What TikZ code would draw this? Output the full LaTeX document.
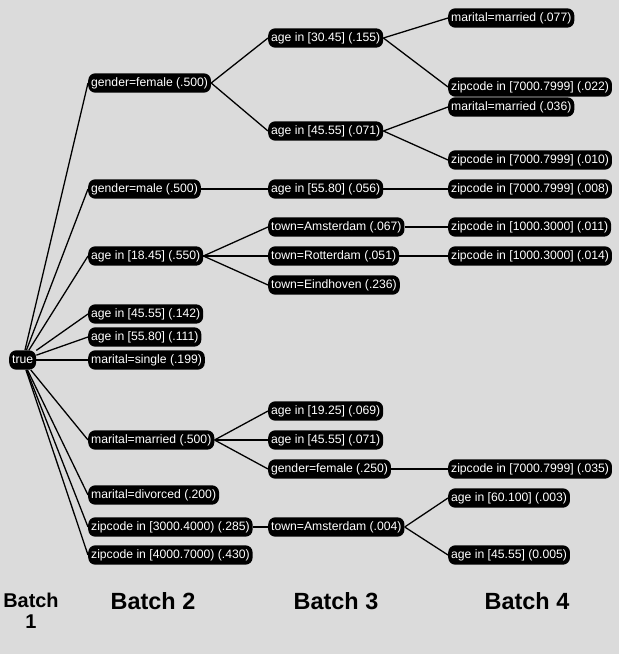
\documentclass[tikz,border=0pt]{standalone}
\usepackage{fontspec}
\setmainfont{Liberation Sans}
\usetikzlibrary{calc}

\tikzset{
  cnd/.style={fill=black,text=white,rounded corners=6pt,anchor=west,
    minimum height=16.5pt,inner xsep=2.5pt,inner ysep=1pt,font=\fontsize{10.4}{11}\selectfont},
  lnk/.style={line width=1.1pt},
  batch/.style={font=\fontsize{20}{17}\selectfont\bfseries,align=center}
}

\begin{document}
\begin{tikzpicture}[x=0.03cm,y=-0.03cm]
    % background
    \fill[black!14] (0,0) rectangle (619,654);
    \useasboundingbox (0,0) rectangle (619,654);
    % root
    \node[cnd] (true) at (9,360) {true};
    % batch 2
    \node[cnd] (gfem) at (88,83) {gender=female (.500)};
    \node[cnd] (gmale) at (88,189) {gender=male (.500)};
    \node[cnd] (a1845) at (88,256) {age in [18.45] (.550)};
    \node[cnd] (a4555) at (88,314) {age in [45.55] (.142)};
    \node[cnd] (a5580) at (88,337) {age in [55.80] (.111)};
    \node[cnd] (msingle) at (88,360) {marital=single (.199)};
    \node[cnd] (mmarried) at (88,440) {marital=married (.500)};
    \node[cnd] (mdiv) at (88,495) {marital=divorced (.200)};
    \node[cnd] (z3000) at (88,527) {zipcode in [3000.4000) (.285)};
    \node[cnd] (z4000) at (88,555) {zipcode in [4000.7000) (.430)};
    \foreach \n in {gfem,gmale,a1845,a4555,a5580,msingle,mmarried,mdiv,z3000,z4000}
      \draw[lnk] (true) -- (\n.west);
    % batch 3
    \node[cnd] (a3045) at (268,38) {age in [30.45] (.155)};
    \node[cnd] (a4555f) at (268,131) {age in [45.55] (.071)};
    \node[cnd] (a5580m) at (268,189) {age in [55.80] (.056)};
    \node[cnd] (tams) at (268,227) {town=Amsterdam (.067)};
    \node[cnd] (trot) at (268,256) {town=Rotterdam (.051)};
    \node[cnd] (tein) at (268,285) {town=Eindhoven (.236)};
    \node[cnd] (a1925) at (268,411) {age in [19.25] (.069)};
    \node[cnd] (a4555m) at (268,440) {age in [45.55] (.071)};
    \node[cnd] (gfemm) at (268,469) {gender=female (.250)};
    \node[cnd] (tamsz) at (268,527) {town=Amsterdam (.004)};
    \draw[lnk] (gfem.east) -- (a3045.west);
    \draw[lnk] (gfem.east) -- (a4555f.west);
    \draw[lnk] (gmale.east) -- (a5580m.west);
    \foreach \n in {tams,trot,tein}
      \draw[lnk] (a1845.east) -- (\n.west);
    \foreach \n in {a1925,a4555m,gfemm}
      \draw[lnk] (mmarried.east) -- (\n.west);
    \draw[lnk] (z3000.east) -- (tamsz.west);
    % batch 4
    \node[cnd] (mm077) at (448,18) {marital=married (.077)};
    \node[cnd] (z022) at (448,87) {zipcode in [7000.7999] (.022)};
    \node[cnd] (mm036) at (448,107) {marital=married (.036)};
    \node[cnd] (z010) at (448,160) {zipcode in [7000.7999] (.010)};
    \node[cnd] (z008) at (448,189) {zipcode in [7000.7999] (.008)};
    \node[cnd] (z011) at (448,227) {zipcode in [1000.3000] (.011)};
    \node[cnd] (z014) at (448,256) {zipcode in [1000.3000] (.014)};
    \node[cnd] (z035) at (448,469) {zipcode in [7000.7999] (.035)};
    \node[cnd] (a60) at (448,498) {age in [60.100] (.003)};
    \node[cnd] (a4555z) at (448,555) {age in [45.55] (0.005)};
    \draw[lnk] (a3045.east) -- (mm077.west);
    \draw[lnk] (a3045.east) -- (z022.west);
    \draw[lnk] (a4555f.east) -- (mm036.west);
    \draw[lnk] (a4555f.east) -- (z010.west);
    \draw[lnk] (a5580m.east) -- (z008.west);
    \draw[lnk] (tams.east) -- (z011.west);
    \draw[lnk] (trot.east) -- (z014.west);
    \draw[lnk] (gfemm.east) -- (z035.west);
    \draw[lnk] (tamsz.east) -- (a60.west);
    \draw[lnk] (tamsz.east) -- (a4555z.west);
    % batch labels
    \node[batch,font=\fontsize{17}{18}\selectfont\bfseries] (b1) at (31,611) {Batch\\1};
    \node[batch] (b2) at (153,601) {Batch 2};
    \node[batch] (b3) at (336,601) {Batch 3};
    \node[batch] (b4) at (527,601) {Batch 4};
\end{tikzpicture}
\end{document}
